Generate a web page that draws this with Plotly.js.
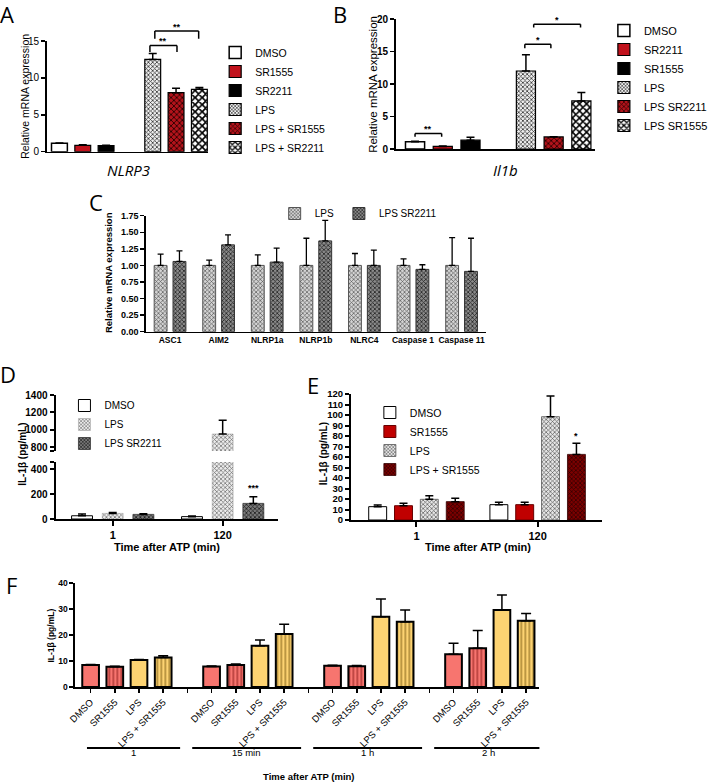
<!DOCTYPE html>
<html><head><meta charset="utf-8">
<script src="https://cdn.plot.ly/plotly-3.0.1.min.js"></script>
<style>html,body{margin:0;padding:0;background:#fff}#chart{width:713px;height:782px}</style>
</head><body><div id="chart"></div>
<script>
// ---------------- DATA ----------------
// Panel A : NLRP3
const aGroups = ['DMSO', 'SR1555', 'SR2211', 'LPS', 'LPS + SR1555', 'LPS + SR2211'];
const aMean   = [1.14, 0.87, 0.81, 12.5, 8.0, 8.45];
const aSem    = [0.05, 0.06, 0.05, 0.8, 0.6, 0.25];
// Panel B : Il1b
const bGroups = ['DMSO', 'SR2211', 'SR1555', 'LPS', 'LPS SR2211', 'LPS SR1555'];
const bMean   = [1.1, 0.4, 1.35, 12.0, 1.85, 7.4];
const bSem    = [0.1, 0.05, 0.45, 2.5, 0.05, 1.3];
// Panel C : inflammasome genes
const cGenes  = ['ASC1', 'AIM2', 'NLRP1a', 'NLRP1b', 'NLRC4', 'Caspase 1', 'Caspase 11'];
const cLPS    = [1.0, 1.0, 1.0, 1.0, 1.0, 1.0, 1.0];
const cLPSsem = [0.17, 0.08, 0.16, 0.41, 0.18, 0.10, 0.42];
const cSR     = [1.06, 1.31, 1.05, 1.37, 1.0, 0.94, 0.91];
const cSRsem  = [0.16, 0.15, 0.21, 0.31, 0.23, 0.07, 0.50];
// Panel D : IL-1b, SR2211
const dTimes  = ['1', '120'];
const dNames  = ['DMSO', 'LPS', 'LPS SR2211'];
const dDMSO   = [26, 19];   const dDMSOsem = [15, 5];
const dLPS    = [45, 950];  const dLPSsem  = [8, 160];
const dSR     = [37, 125];  const dSRsem   = [6, 53];
// Panel E : IL-1b, SR1555
const eTimes  = ['1', '120'];
const eNames  = ['DMSO', 'SR1555', 'LPS', 'LPS + SR1555'];
const eDMSO   = [12.7, 14.6]; const eDMSOsem = [1.6, 2.2];
const eSR     = [13.6, 14.6]; const eSRsem   = [2.3, 2.2];
const eLPS    = [19.7, 98.4]; const eLPSsem  = [3.5, 19.6];
const eLPSSR  = [17.5, 62.5]; const eLPSSRsem= [3.1, 10.5];
// Panel F : time course
const fTimes  = ['1', '15 min', '1 h', '2 h'];
const fTreat  = ['DMSO', 'SR1555', 'LPS', 'LPS + SR1555'];
const fDMSO   = [8.5, 7.9, 8.2, 12.6];   const fDMSOsem  = [0.2, 0.2, 0.2, 4.2];
const fSR     = [7.8, 8.5, 8.0, 14.9];   const fSRsem    = [0.2, 0.3, 0.3, 6.8];
const fLPS    = [10.4, 15.9, 27.0, 29.6]; const fLPSsem  = [0.2, 2.2, 6.8, 5.8];
const fLPSSR  = [11.3, 20.4, 25.1, 25.5]; const fLPSSRsem= [0.7, 3.7, 4.5, 2.8];

// ---------------- HELPERS ----------------
const W = 713, H = 782;
const px = v => v / W;
const py = v => 1 - v / H;
const FONT = 'Liberation Sans, Arial, sans-serif';
const LETTER = 'Open Sans, Noto Sans, sans-serif';

const pat = (shape, bg, fg, size, solidity) => ({shape, bgcolor: bg, fgcolor: fg, size, solidity, fillmode: 'replace'});
const err = (arr, w, t) => ({type: 'data', array: arr, arrayminus: arr.map(() => 0), symmetric: false,
  color: '#000', thickness: t || 1.5, width: w || 4});

const S = {
  white:   {color: '#ffffff', line: {color: '#000', width: 1.5}},
  red:     {color: '#c1121c', line: {color: '#000', width: 1.2}},
  black:   {color: '#000000', line: {color: '#000', width: 1.2}},
  lps:     {color: '#d8d8d8', pattern: pat('x', '#eeeeee', '#333333', 3, 0.45), line: {color: '#000', width: 1.2}},
  lpsRed:  {color: '#b3131b', pattern: pat('x', '#b3131b', '#2a0000', 4, 0.4), line: {color: '#000', width: 1.2}},
  lpsBW:   {color: '#888888', pattern: pat('x', '#ffffff', '#000000', 5, 0.55), line: {color: '#000', width: 1.2}}
};
const aStyle = [S.white, S.red, S.black, S.lps, S.lpsRed, S.lpsBW];
const bStyle = [S.white, S.red, S.black, S.lps, S.lpsRed, S.lpsBW];
const cStyle = [
  {color: '#c8c8c8', pattern: pat('x', '#d4d4d4', '#555555', 3, 0.4), line: {color: '#555', width: 1}},
  {color: '#777777', pattern: pat('x', '#8a8a8a', '#222222', 3, 0.45), line: {color: '#333', width: 1}}
];
const dStyle = [
  {color: '#ffffff', line: {color: '#000', width: 1}},
  {color: '#e0e0e0', pattern: pat('x', '#ececec', '#666666', 3, 0.4), line: {color: '#999', width: 0.5}},
  {color: '#666666', pattern: pat('x', '#7a7a7a', '#1e1e1e', 3, 0.45), line: {color: '#333', width: 0.8}}
];
const eStyle = [
  {color: '#ffffff', line: {color: '#000', width: 1}},
  {color: '#c00000', line: {color: '#600', width: 1}},
  {color: '#dddddd', pattern: pat('x', '#e6e6e6', '#555555', 3, 0.4), line: {color: '#555', width: 0.8}},
  {color: '#6e0000', pattern: pat('x', '#7c0000', '#2a0000', 3, 0.4), line: {color: '#300', width: 0.8}}
];
const SALMON = '#f7756f', YELLOW = '#fdd372';
const fStyle = [
  {color: SALMON, line: {color: '#000', width: 2}},
  {color: SALMON, pattern: pat('|', SALMON, '#8a1818', 4, 0.25), line: {color: '#000', width: 2}},
  {color: YELLOW, line: {color: '#000', width: 2}},
  {color: YELLOW, pattern: pat('|', YELLOW, '#7a5a12', 4, 0.25), line: {color: '#000', width: 2}}
];

const traces = [];
const skip = {hoverinfo: 'skip'};

// A
aGroups.forEach((g, i) => traces.push(Object.assign({
  type: 'bar', x: [g], y: [aMean[i]], error_y: err([aSem[i]], 4),
  xaxis: 'x', yaxis: 'y', name: g, legend: 'legend', width: 0.68, offset: -0.34, marker: aStyle[i]}, skip)));
// B
bGroups.forEach((g, i) => traces.push(Object.assign({
  type: 'bar', x: [g], y: [bMean[i]], error_y: err([bSem[i]], 4),
  xaxis: 'x2', yaxis: 'y2', name: g, legend: 'legend2', width: 0.69, offset: -0.345, marker: bStyle[i]}, skip)));
// C
[[cLPS, cLPSsem, 'LPS', -0.327], [cSR, cSRsem, 'LPS SR2211', 0.061]].forEach((s, i) => traces.push(Object.assign({
  type: 'bar', x: cGenes, y: s[0], error_y: err(s[1], 3, 1.3),
  xaxis: 'x3', yaxis: 'y3', name: s[2], legend: 'legend3', width: 0.265, offset: s[3], marker: cStyle[i]}, skip)));
// D (broken axis: lower y4, upper y5)
const dSeries = [[dDMSO, dDMSOsem], [dLPS, dLPSsem], [dSR, dSRsem]];
const dOff = [-0.374, -0.095, 0.184];
dSeries.forEach((s, i) => {
  ['y4', 'y5'].forEach((ya, k) => traces.push(Object.assign({
    type: 'bar', x: dTimes, y: s[0], error_y: err(s[1], 4),
    xaxis: 'x4', yaxis: ya, name: dNames[i], legend: 'legend4', showlegend: k === 0,
    width: 0.19, offset: dOff[i], marker: dStyle[i]}, skip)));
});
// E
const eSeries = [[eDMSO, eDMSOsem], [eSR, eSRsem], [eLPS, eLPSsem], [eLPSSR, eLPSSRsem]];
const eOff = [-0.394, -0.181, 0.032, 0.246];
eSeries.forEach((s, i) => traces.push(Object.assign({
  type: 'bar', x: eTimes, y: s[0], error_y: err(s[1], 4),
  xaxis: 'x5', yaxis: 'y6', name: eNames[i], legend: 'legend5',
  width: 0.148, offset: eOff[i], marker: eStyle[i]}, skip)));
// F
const fKey = (t, tr) => t + '|' + tr;
const fCats = [], fTicks = [];
fTimes.forEach((t, g) => {
  fTreat.forEach(tr => { fCats.push(fKey(t, tr)); fTicks.push(tr); });
  if (g < fTimes.length - 1) { fCats.push('gap' + g); fTicks.push(''); }
});
const fSeries = [[fDMSO, fDMSOsem], [fSR, fSRsem], [fLPS, fLPSsem], [fLPSSR, fLPSSRsem]];
fSeries.forEach((s, i) => traces.push(Object.assign({
  type: 'bar', x: fTimes.map(t => fKey(t, fTreat[i])), y: s[0], error_y: err(s[1], 5),
  xaxis: 'x6', yaxis: 'y7', name: fTreat[i], showlegend: false,
  width: 0.69, offset: -0.345, marker: fStyle[i]}, skip)));

// ---------------- AXES ----------------
const base = {showgrid: false, zeroline: false, showline: true, linecolor: '#000', linewidth: 1.5,
  ticks: 'outside', ticklen: 4, tickwidth: 1.5, tickcolor: '#000', fixedrange: true};
const ax = o => Object.assign({}, base, o);
const tf = (size, bold) => ({family: FONT, size, color: '#000', weight: bold ? 'bold' : 'normal'});

const aCats = aGroups.slice(0, 3).concat(['_gapA'], aGroups.slice(3));
const bCats = bGroups.slice(0, 3).concat(['_gapB'], bGroups.slice(3));

const layout = {
  width: W, height: H, margin: {l: 0, r: 0, t: 0, b: 0},
  paper_bgcolor: '#fff', plot_bgcolor: 'rgba(0,0,0,0)', barmode: 'overlay',
  font: {family: FONT, color: '#000'},
  xaxis:  ax({domain: [px(47), px(210)], anchor: 'y', type: 'category', categoryorder: 'array', categoryarray: aCats,
              range: [-0.55, 6.38], ticks: '', showticklabels: false}),
  yaxis:  ax({domain: [py(151.7), py(41)], anchor: 'x', range: [0, 15], dtick: 5, tickfont: tf(10, false)}),
  xaxis2: ax({domain: [px(399), px(600)], anchor: 'y2', type: 'category', categoryorder: 'array', categoryarray: bCats,
              range: [-0.7, 6.49], ticks: '', showticklabels: false}),
  yaxis2: ax({domain: [py(149), py(19)], anchor: 'x2', range: [0, 20], dtick: 5, tickfont: tf(10, true)}),
  xaxis3: ax({domain: [px(147), px(490)], anchor: 'y3', type: 'category', categoryorder: 'array', categoryarray: cGenes,
              range: [-0.5, 6.5], ticks: '', tickangle: 0, tickfont: tf(8.5, true)}),
  yaxis3: ax({domain: [py(331.7), py(215.7)], anchor: 'x3', range: [0, 1.75], dtick: 0.25, tickformat: '.2f', tickfont: tf(9, true)}),
  xaxis4: ax({domain: [px(56), px(280)], anchor: 'y4', type: 'category', categoryorder: 'array', categoryarray: dTimes,
              range: [-0.52, 1.5], ticklen: 5, tickwidth: 2, tickfont: tf(11, true)}),
  yaxis4: ax({domain: [py(519), py(462)], anchor: 'x4', range: [0, 456], tickvals: [0, 200, 400, 456],
              ticktext: ['0', '200', '400', ''], tickfont: tf(10, true), linewidth: 2, tickwidth: 2}),
  yaxis5: ax({domain: [py(451), py(395)], anchor: 'x4', range: [754, 1400], tickvals: [754, 800, 1000, 1200, 1400],
              ticktext: ['', '800', '1000', '1200', '1400'], tickfont: tf(10, true), linewidth: 2, tickwidth: 2}),
  xaxis5: ax({domain: [px(354), px(607)], anchor: 'y6', type: 'category', categoryorder: 'array', categoryarray: eTimes,
              range: [-0.54, 1.53], ticklen: 5, tickwidth: 2, tickfont: tf(11, true), linewidth: 2}),
  yaxis6: ax({domain: [py(520), py(394)], anchor: 'x5', range: [0, 120], dtick: 10, tickfont: tf(9.5, true), linewidth: 2, tickwidth: 2}),
  xaxis6: ax({domain: [px(76), px(544)], anchor: 'y7', type: 'category', categoryorder: 'array', categoryarray: fCats,
              range: [-0.63, 18.55], tickvals: fCats, ticktext: fTicks, tickangle: -45, tickfont: tf(9.5, false), linewidth: 2}),
  yaxis7: ax({domain: [py(687), py(583)], anchor: 'x6', range: [0, 40], dtick: 10, tickfont: tf(8.5, true), linewidth: 2}),
  legend:  {x: px(217), y: py(38), xanchor: 'left', yanchor: 'top', font: tf(10.5, false), bgcolor: 'rgba(0,0,0,0)', itemwidth: 30},
  legend2: {x: px(609), y: py(16), xanchor: 'left', yanchor: 'top', font: tf(11, false), bgcolor: 'rgba(0,0,0,0)', itemwidth: 30},
  legend3: {x: px(277), y: py(199), xanchor: 'left', yanchor: 'top', orientation: 'h', font: tf(10, false),
            bgcolor: 'rgba(0,0,0,0)', itemwidth: 30},
  legend4: {x: px(65), y: py(391), xanchor: 'left', yanchor: 'top', font: tf(10, false), bgcolor: 'rgba(0,0,0,0)', itemwidth: 30},
  legend5: {x: px(373), y: py(398), xanchor: 'left', yanchor: 'top', font: tf(10.5, false), bgcolor: 'rgba(0,0,0,0)', itemwidth: 30},
  shapes: [], annotations: []
};

// significance brackets (x in category index, y as fraction of axis range)
const brackets = [
  {xa: 'x',  ya: 'y domain',  max: 15, x0: 3.88, x1: 5.04, top: 14.4, tip: 13.5, text: '**'},
  {xa: 'x',  ya: 'y domain',  max: 15, x0: 4.09, x1: 5.97, top: 16.35, tip: 15.3, text: '**'},
  {xa: 'x2', ya: 'y2 domain', max: 20, x0: 0.0, x1: 0.96, top: 2.4, tip: 1.9, text: '**'},
  {xa: 'x2', ya: 'y2 domain', max: 20, x0: 3.96, x1: 4.9, top: 16.1, tip: 15.5, text: '*'},
  {xa: 'x2', ya: 'y2 domain', max: 20, x0: 4.28, x1: 5.97, top: 19.2, tip: 18.7, text: '*'}
];
brackets.forEach(b => {
  const ln = {color: '#000', width: 1.5};
  layout.shapes.push({type: 'line', xref: b.xa, yref: b.ya, x0: b.x0, x1: b.x0, y0: b.tip / b.max, y1: b.top / b.max, line: ln});
  layout.shapes.push({type: 'line', xref: b.xa, yref: b.ya, x0: b.x1, x1: b.x1, y0: b.tip / b.max, y1: b.top / b.max, line: ln});
  layout.shapes.push({type: 'line', xref: b.xa, yref: b.ya, x0: b.x0, x1: b.x1, y0: b.top / b.max, y1: b.top / b.max, line: ln});
  layout.annotations.push({xref: b.xa, yref: b.ya, x: (b.x0 + b.x1) / 2, y: b.top / b.max, yanchor: 'bottom', yshift: -3,
    text: b.text, showarrow: false, font: tf(9, true)});
});
layout.annotations.push({xref: 'x4', yref: 'y4', x: 1.279, y: 250, text: '***', showarrow: false, font: tf(9, true)});
layout.annotations.push({xref: 'x5', yref: 'y6', x: 1.32, y: 80, text: '*', showarrow: false, font: tf(9, true)});

// F group underlines + labels
fTimes.forEach((t, g) => {
  const x0 = Math.max(5 * g - 0.8, -0.15), x1 = 5 * g + 3.7;
  layout.shapes.push({type: 'line', xref: 'x6', yref: 'paper', x0, x1, y0: py(748), y1: py(748), line: {color: '#000', width: 2}});
  layout.annotations.push({xref: 'x6', yref: 'paper', x: (x0 + x1) / 2, y: py(760), text: t, showarrow: false, font: tf(9.5, false)});
});

// text labels
const txt = (x, y, text, font, extra) => layout.annotations.push(Object.assign({xref: 'paper', yref: 'paper', x: px(x), y: py(y),
  xanchor: 'center', yanchor: 'middle', text, showarrow: false, font}, extra || {}));
const letterFont = {family: LETTER, size: 22, color: '#000'};
txt(7, 14, 'A', letterFont); txt(343, 14, 'B', letterFont); txt(97, 202, 'C', letterFont);
txt(8, 374, 'D', letterFont); txt(316, 385, 'E', letterFont); txt(12, 585, 'F', letterFont);
txt(130, 170, '<i>NLRP3</i>', {family: LETTER, size: 15, color: '#000'});
txt(510, 170, '<i>Il1b</i>', {family: LETTER, size: 15, color: '#000'});
txt(25, 96, 'Relative mRNA expression', tf(10.5, false), {textangle: -90});
txt(376, 84, 'Relative mRNA expression', tf(11.5, false), {textangle: -90});
txt(110, 273, 'Relative mRNA expression', tf(9.5, true), {textangle: -90});
txt(22, 454, 'IL-1β (pg/mL)', tf(10, true), {textangle: -90});
txt(326, 454, 'IL-1β (pg/mL)', tf(10, true), {textangle: -90});
txt(51, 636, 'IL-1β (pg/mL)', tf(8.5, true), {textangle: -90});
txt(168, 547, 'Time after ATP (min)', tf(11, true));
txt(482, 547, 'Time after ATP (min)', tf(11, true));
txt(312, 776, 'Time after ATP (min)', tf(9.5, true));

Plotly.newPlot('chart', traces, layout, {displayModeBar: false, staticPlot: true});
</script></body></html>
